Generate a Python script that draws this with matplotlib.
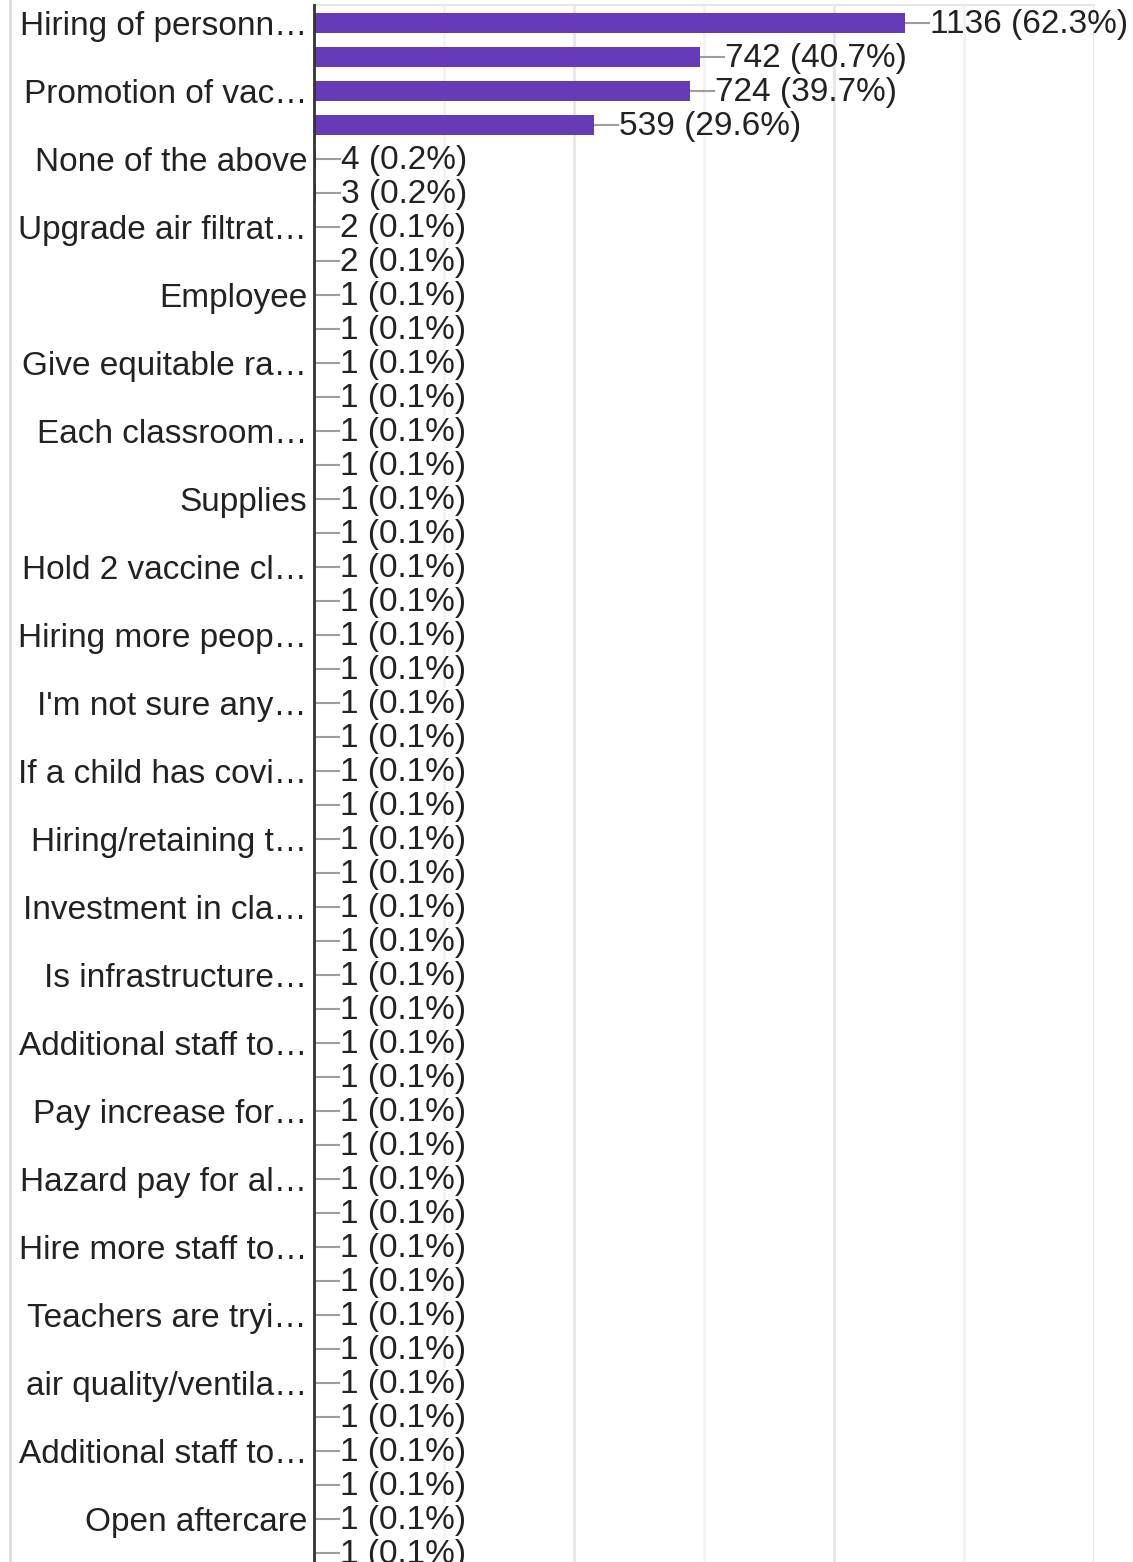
import numpy as np
import matplotlib
matplotlib.use("Agg")
import matplotlib.pyplot as plt
import matplotlib.transforms as mtransforms
from matplotlib.lines import Line2D

# Etiquettes visibles (une barre sur deux porte une etiquette)
etiquettes = [
    "Hiring of personn…", "Promotion of vac…", "None of the above", "Upgrade air filtrat…",
    "Employee", "Give equitable ra…", "Each classroom…", "Supplies",
    "Hold 2 vaccine cl…", "Hiring more peop…", "I'm not sure any…", "If a child has covi…",
    "Hiring/retaining t…", "Investment in cla…", "Is infrastructure…", "Additional staff to…",
    "Pay increase for…", "Hazard pay for al…", "Hire more staff to…", "Teachers are tryi…",
    "air quality/ventila…", "Additional staff to…", "Open aftercare",
]
valeurs = [1136, 742, 724, 539, 4, 3, 2, 2] + [1] * 38
nb_reponses = 1823

couleur_barre = "#673ab7"
couleur_texte = "#222222"

plt.rcParams['font.family'] = ['Liberation Sans', 'DejaVu Sans']

fig = plt.figure(figsize=(11.33, 15.62), dpi=100)
W, H = 1133, 1562
ax = fig.add_axes([314 / W, 0, (1094 - 314) / W, (H - 5) / H])

y = np.arange(len(valeurs))
ax.barh(y, valeurs, height=0.6, color=couleur_barre, zorder=3)

ax.set_xlim(0, 1500)
ax.set_ylim((H - 23) / 34, -18 / 34)

# grille verticale
for xv in [250, 750, 1250]:
    ax.axvline(xv, color="#f3f3f3", lw=2, zorder=1)
for xv in [500, 1000, 1500]:
    ax.axvline(xv, color="#e6e6e6", lw=2, zorder=1)

# etiquettes des valeurs avec petit trait
px = 1500 / (1094 - 314)
decal = mtransforms.offset_copy(ax.transData, fig=fig, x=0, y=-2, units="dots")
for i, v in enumerate(valeurs):
    pct = v / nb_reponses * 100
    ax.plot([v, v + 24 * px], [i, i], color="#9e9e9e", lw=1.5, zorder=2, clip_on=False)
    ax.text(v + 25 * px, i, f"{v} ({pct:.1f}%)", va="center", ha="left",
            fontsize=24, color=couleur_texte, zorder=4, clip_on=False, transform=decal)

ax.set_yticks(y[::2])
ax.set_yticklabels(etiquettes, fontsize=24, color=couleur_texte)
ax.tick_params(axis="y", length=0, pad=5)
ax.set_xticks([])

for s in ["right", "bottom"]:
    ax.spines[s].set_visible(False)
ax.spines["top"].set_color("#e6e6e6")
ax.spines["top"].set_linewidth(1.5)
ax.spines["left"].set_color("#333333")
ax.spines["left"].set_linewidth(2)
ax.spines["left"].set_zorder(5)

# trait gris a gauche
fig.add_artist(Line2D([10 / W, 10 / W], [0, 1], color="#dddddd", lw=2))

fig.savefig("out.png", dpi=100, facecolor="white")
